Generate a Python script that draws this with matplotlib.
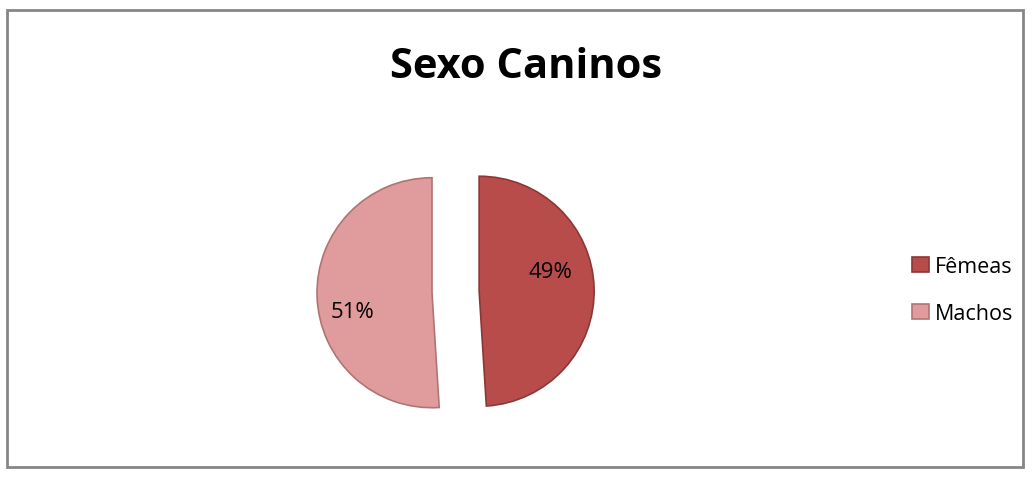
import matplotlib
matplotlib.use("Agg")
from matplotlib import pyplot as plt
from matplotlib.patches import Rectangle

labels = ["Fêmeas", "Machos"]
sizes = [49, 51]
colors = ["#B84C4A", "#E09C9C"]
edges = ["#8A3836", "#B07474"]

plt.rcParams['font.family'] = ['Open Sans', 'DejaVu Sans']

fig = plt.figure(figsize=(10.33, 4.81), dpi=100)
W, H = 1033, 481

# outer chart frame
fig.patches.append(Rectangle((7 / W, 1 - 468 / H), 1016 / W, 457 / H, transform=fig.transFigure,
                             fill=False, edgecolor="#868686", linewidth=2))

fig.text(526 / W, 1 - 67 / H, "Sexo Caninos", ha="center", va="center",
         fontsize=30, fontweight="bold")

# pie axes: centre ~ (455, 293) px, radius ~115 px
half = 1.3 * 115
ax = fig.add_axes([(455 - half) / W, 1 - (293 + half) / H, 2 * half / W, 2 * half / H])
wedges, texts, autotexts = ax.pie(sizes, colors=colors, startangle=90, counterclock=False,
                                  explode=[0.21, 0.2], autopct='%1.0f%%', pctdistance=0.65,
                                  wedgeprops={"linewidth": 1.2}, textprops={"fontsize": 16})
for w, e in zip(wedges, edges):
    w.set_edgecolor(e)
# nudge the percentage labels like the original
autotexts[0].set_position((autotexts[0].get_position()[0] - 0.03, 0.18))
autotexts[1].set_position((autotexts[1].get_position()[0] - 0.04, -0.17))
ax.set_xlim(-1.3, 1.3)
ax.set_ylim(-1.3, 1.3)
ax.set_aspect('equal')
ax.axis('off')

leg = fig.legend(wedges, labels, loc="center left", bbox_to_anchor=(893 / W, 1 - 291 / H),
                 frameon=False, fontsize=15.5, handlelength=0.75, handleheight=0.75,
                 handletextpad=0.3, labelspacing=1.2)

fig.savefig("out.png", dpi=100)
